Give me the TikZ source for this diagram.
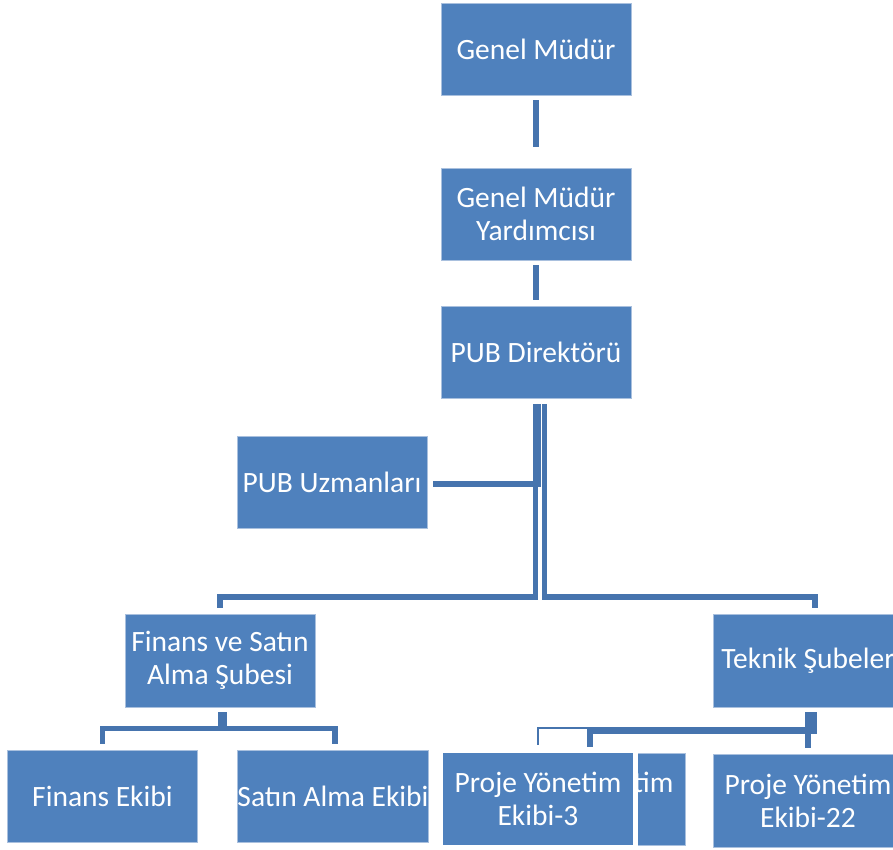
\documentclass[tikz,border=0pt]{standalone}
\usepackage{fontspec}
\setmainfont{Carlito}
\usetikzlibrary{calc}
\definecolor{boxBlue}{HTML}{4F81BD}
\definecolor{boxEdge}{HTML}{A9C0DE}
\definecolor{lineBlue}{HTML}{4674AE}
\begin{document}
\begin{tikzpicture}[x=1pt,y=-1pt,
    box/.style={fill=boxBlue, draw=boxEdge, line width=0.6pt, text=white,
        align=center, inner sep=0pt, minimum width=190pt, minimum height=92pt,
        font=\fontsize{29.5}{33}\selectfont},
    conn/.style={draw=lineBlue, line width=5.5pt, shorten <=5pt, shorten >=6pt},
    thinConn/.style={conn, line width=2pt}
]
\clip (0,0) rectangle (893,849);
\useasboundingbox (0,0) rectangle (893,849);

\node[box] (gm) at (536,49) {Genel Müdür};
\node[box] (gmy) at (536,214) {Genel Müdür\\Yardımcısı};
\node[box] (dir) at (536,352.5) {PUB Direktörü};
\node[box] (uzman) at (332,482) {PUB Uzmanları};
\node[box, minimum height=93pt] (finans) at (220,660.5) {Finans ve Satın\\Alma Şubesi};
\node[box, minimum height=93pt] (teknik) at (808,660.5) {Teknik Şubeler};
\node[box] (finEkip) at (102.5,796) {Finans Ekibi};
\node[box] (satinEkip) at (333,796) {Satın Alma Ekibi};
\node[box] (pyeX) at (590,799) {Proje Yönetim\\\phantom{Ekibi-3}};
\node[box, draw=white, line width=5pt, minimum width=195pt, minimum height=97pt] (pye3) at (538,799) {Proje Yönetim\\Ekibi-3};
\node[box, minimum height=93pt] (pye22) at (808,800.5) {Proje Yönetim\\Ekibi-22};

\draw[conn, shorten >=21pt] (gm) -- (gmy);
\draw[conn] (gmy) -- (dir);

\draw[conn] ([xshift=2pt]dir.south) |- ([yshift=-2pt]uzman.east);
\draw[conn] ([xshift=-0.5pt]dir.south) -- ++(0,198) -| (finans.north);
\draw[conn] ([xshift=8.5pt]dir.south) -- ++(0,198) -| ([xshift=7pt]teknik.north);

\draw[conn] ([xshift=0.5pt]finans.south) -- ++(0,21) -| (finEkip.north);
\draw[conn] ([xshift=4.5pt]finans.south) -- ++(0,21) -| ([xshift=2pt]satinEkip.north);

\draw[thinConn] ([xshift=3pt]teknik.south) -- ++(0,21) -| ([yshift=-2.5pt]pye3.north);
\draw[conn] ([xshift=6.5pt]teknik.south) -- ++(0,23.5) -| (pyeX.north);
\draw[conn] (teknik.south) -- (pye22.north);

\end{tikzpicture}
\end{document}
